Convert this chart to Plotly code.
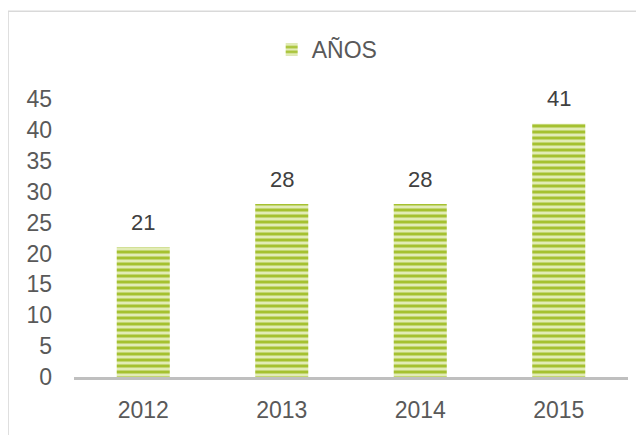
import plotly.graph_objects as go

categories = ["2012", "2013", "2014", "2015"]
values = [21, 28, 28, 41]
series_name = "AÑOS"
y_ticks = [0, 5, 10, 15, 20, 25, 30, 35, 40, 45]

FONT = "Liberation Sans, Arial, sans-serif"
TXT = "#595959"

fig = go.Figure()
fig.add_trace(go.Bar(
    x=categories, y=values, name=series_name,
    width=0.383,
    marker=dict(
        color="#a5c130",
        line=dict(width=0),
        pattern=dict(shape="-", bgcolor="#e2ecb6", fgcolor="#a5c130",
                     size=6, solidity=0.5, fillmode="replace"),
    ),
    showlegend=True,
))

# category axes place annotations by category serial number
for i, v in enumerate(values):
    fig.add_annotation(x=i, y=v, xref="x", yref="y", text=str(v), showarrow=False,
                       yanchor="middle", yshift=25,
                       font=dict(family=FONT, size=22, color="#404040"))

fig.update_layout(
    width=636, height=427,
    margin=dict(l=66, r=16, t=91, b=56),
    paper_bgcolor="white", plot_bgcolor="white",
    font=dict(family=FONT, size=23, color=TXT),
    legend=dict(orientation="h", x=0.457, xanchor="center", y=1.178, yanchor="middle",
                font=dict(family=FONT, size=23, color=TXT),
                itemwidth=30, bgcolor="rgba(0,0,0,0)"),
    xaxis=dict(type="category", showline=True, linecolor="#bfbfbf", linewidth=2.5,
               showgrid=False, ticks="", ticklabelstandoff=11,
               tickfont=dict(size=23, color=TXT), range=[-0.5, 3.5]),
    yaxis=dict(range=[0, 45], tickvals=y_ticks, showgrid=False, showline=False,
               zeroline=False, ticks="", ticklabelstandoff=21,
               tickfont=dict(size=23, color=TXT)),
    shapes=[dict(type="rect", xref="paper", yref="paper",
                 x0=-0.119, x1=1.06, y0=-0.25, y1=1.3156,
                 line=dict(color="#d9d9d9", width=1.5), fillcolor="rgba(0,0,0,0)",
                 layer="below")],
)

fig.write_html("out.html")
